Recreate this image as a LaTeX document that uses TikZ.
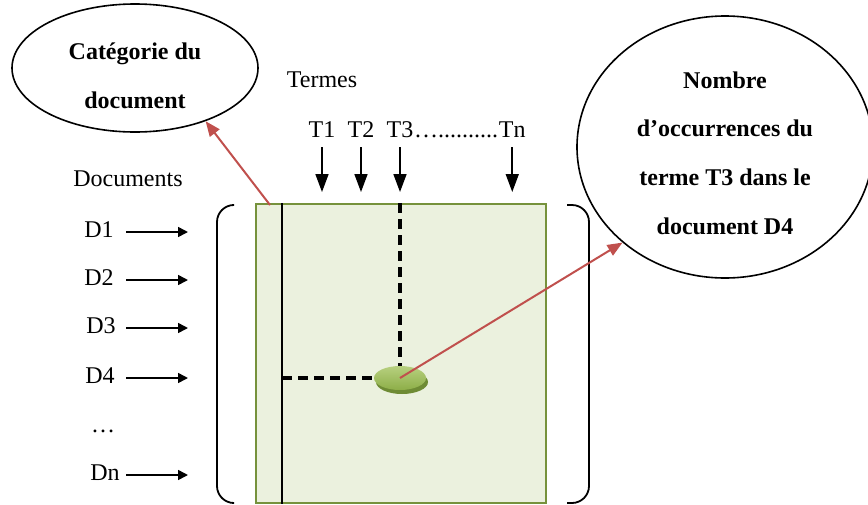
\documentclass[tikz,border=0pt]{standalone}
\usepackage{fontspec}
\setmainfont{Liberation Serif}
\usetikzlibrary{positioning,arrows.meta,shapes.geometric}

\definecolor{matfill}{HTML}{EBF1DE}
\definecolor{matline}{HTML}{76923C}
\definecolor{discA}{HTML}{B7D07F}
\definecolor{discB}{HTML}{8DAE48}
\definecolor{discrim}{HTML}{6E8B34}
\definecolor{ptred}{HTML}{C0504D}

\begin{document}
\begin{tikzpicture}[
  x=0.5pt, y=-0.5pt,
  font=\fontsize{12}{14}\selectfont,
  bubble/.style={draw, ellipse, line width=0.8pt, inner sep=0pt},
  bubbletext/.style={align=center, inner sep=0pt,
                     font=\bfseries\fontsize{12}{24.3}\selectfont},
  lbl/.style={inner sep=0pt},
  termarrow/.style={-{Triangle[length=9pt,width=6.5pt]}, line width=0.8pt},
  docarrow/.style={-{Triangle[length=5pt,width=5pt]}, line width=0.8pt},
  pointer/.style={-{Triangle[length=7.5pt,width=6pt]}, line width=1pt, draw=ptred, fill=ptred},
  dashline/.style={dash pattern=on 5pt off 3pt, line width=1.6pt},
  bracket/.style={line width=0.9pt, rounded corners=8.5pt},
  hitdisc/.style={ellipse, inner sep=0pt, minimum width=26pt, minimum height=12pt,
                  top color=discA, bottom color=discB},
]
  \clip (0,0) rectangle (868,504);

  % term-document matrix
  \node[draw=matline, fill=matfill, line width=1pt, inner sep=0pt,
        minimum width=145pt, minimum height=149.5pt] (mat) at (401,353.5) {};
  \coordinate (colx) at (282,0);
  \draw[line width=1pt] (mat.north -| colx) -- (mat.south -| colx);
  \draw[bracket] (232,205) -- (217,205) -- (217,503) -- (232,503);
  \draw[bracket] (567,205) -- (589,205) -- (589,503) -- (567,503);

  % the cell (T3, D4)
  \node[ellipse, fill=discrim, inner sep=0pt, minimum width=26pt,
        minimum height=12pt] (rim) at (402,382) {};
  \node[hitdisc] (cell) at (400,378) {};
  \draw[dashline] (colx |- cell) -- (cell.west);
  \draw[dashline] (cell.north |- mat.north) -- (cell.north);

  % bubbles
  \node[bubble, minimum width=123pt, minimum height=64pt] (cat) at (135,68) {};
  \node[bubbletext] (cattext) at ([yshift=-4pt]cat.center) {Catégorie du\\document};
  \node[bubble, minimum width=148pt, minimum height=131pt] (occ) at (725,147) {};
  \node[bubbletext] (occtext) at ([yshift=-3pt]occ.center)
    {Nombre\\d’occurrences du\\terme T3 dans le\\document D4};

  % terms
  \node (termes) at (322,80) {Termes};
  \node[lbl] (t1) at (322,130) {T1};
  \node[lbl] (t2) at (361,130) {T2};
  \node[lbl] (t3) at (400,130) {T3};
  \node[lbl, base right=0pt of t3] (dots) {…..........};
  \node[lbl, base right=0pt of dots] (tn) {Tn};
  \foreach \t in {t1,t2,t3,tn}
    \draw[termarrow] ([yshift=-4.5pt]\t.south) -- ([yshift=5.5pt]\t.south |- mat.north);

  % documents
  \node (docs) at (128,179) {Documents};
  \node[lbl] (d1) at (99,230) {D1};
  \node[lbl] (d2) at (99,278) {D2};
  \node[lbl] (d3) at (101,326) {D3};
  \node[lbl] (d4) at (100,376) {D4};
  \node[lbl] (etc) at (103,431) {…};
  \node[lbl] (dn) at (105,473) {Dn};
  \coordinate (dfrom) at (126,0);
  \coordinate (dto) at (188,0);
  \foreach \d in {d1,d2,d3,d4,dn}
    \draw[docarrow] ([yshift=-1pt]\d.center -| dfrom) -- ([yshift=-1pt]\d.center -| dto);

  % pointers
  \coordinate (catfoot) at (270,205);
  \draw[pointer] (catfoot) -- (cat.-37);
  \draw[pointer] (cell.center) -- (occ.223);
\end{tikzpicture}
\end{document}
